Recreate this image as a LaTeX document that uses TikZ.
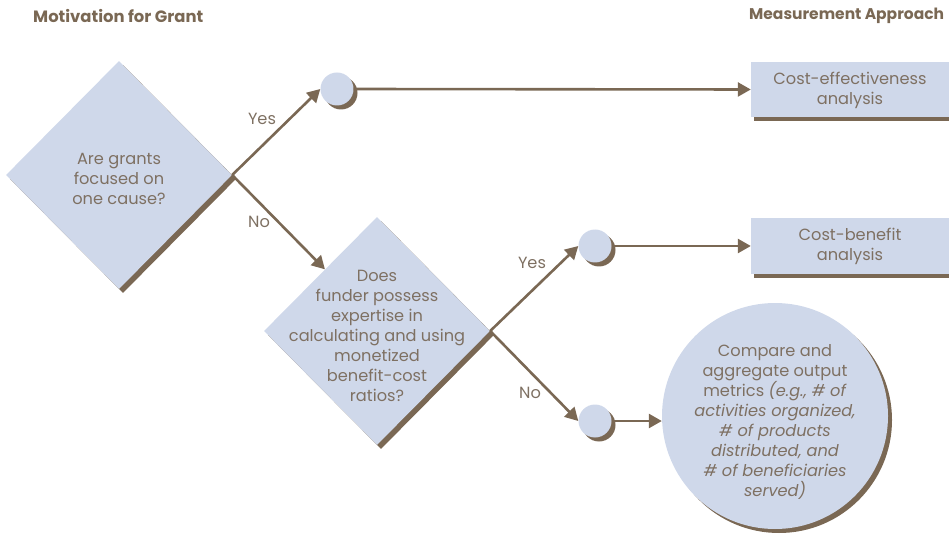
\documentclass[tikz,border=0pt]{standalone}
\usepackage{fontspec}
\setmainfont{Poppins}
\usetikzlibrary{shapes.geometric,arrows.meta,calc}
\definecolor{brn}{RGB}{122,104,84}
\definecolor{txtc}{RGB}{126,112,98}
\definecolor{pale}{RGB}{207,216,234}
\begin{document}
\begin{tikzpicture}[x=1pt,y=-1pt,
  txt/.style={text=txtc,font=\fontsize{16.2}{20}\selectfont,align=center,inner sep=0pt},
  head/.style={text=brn,font=\bfseries\fontsize{16.4}{18}\selectfont,anchor=west,inner sep=0pt},
  diam/.style={diamond,fill=pale,minimum width=226pt,minimum height=228pt,inner sep=0pt,aspect=1},
  diamsh/.style={diamond,fill=brn,minimum width=226pt,minimum height=228pt,inner sep=0pt,aspect=1},
  dot/.style={circle,fill=pale,minimum size=33pt,inner sep=0pt},
  dotsh/.style={circle,fill=brn,minimum size=33pt,inner sep=0pt},
  big/.style={circle,fill=pale,minimum size=226pt,inner sep=0pt},
  bigsh/.style={circle,fill=brn,minimum size=226pt,inner sep=0pt},
  box/.style={rectangle,fill=pale,minimum width=198pt,inner sep=0pt},
  boxsh/.style={rectangle,fill=brn,minimum width=198pt,inner sep=0pt},
  conn/.style={draw=brn,line width=2.6pt,-{Triangle[length=13pt,width=14pt]}},
  lbl/.style={text=txtc,font=\fontsize{16.2}{18}\selectfont,inner sep=0pt}
]
\path[use as bounding box] (0,0) rectangle (949,534);

% headers
\node[head] (h1) at (33,16) {Motivation for Grant};
\node[head,font=\bfseries\fontsize{15.5}{18}\selectfont] (h2) at (749,16) {Measurement Approach};

% shadows
\node[diamsh] (d1s) at (123,179) {};
\node[diamsh] (d2s) at (381,335) {};
\node[dotsh] (c1s) at (341,93) {};
\node[dotsh] (c2s) at (599,250) {};
\node[dotsh] (c3s) at (599,425) {};
\node[bigsh] (bcs) at (779,420) {};
\node[boxsh,minimum height=55pt] (b1s) at (853,93.5) {};
\node[boxsh,minimum height=56pt] (b2s) at (853,250) {};

% shapes
\node[diam] (d1) at (119,175) {};
\node[diam] (d2) at (377,331) {};
\node[dot] (c1) at (337,89) {};
\node[dot] (c2) at (595,246) {};
\node[dot] (c3) at (595,421) {};
\node[big] (bc) at (775,416) {};
\node[box,minimum height=55pt] (b1) at (850,89.5) {};
\node[box,minimum height=56pt] (b2) at (850,246) {};

% texts
\node[txt] (d1t) at (119,179) {Are grants\\focused on\\one cause?};
\node[txt] (d2t) at (377,336) {Does\\funder possess\\expertise in\\calculating and using\\monetized\\benefit-cost\\ratios?};
\node[txt] (bct) at (775,422) {Compare and\\aggregate output\\metrics \textit{(e.g., \# of}\\\textit{activities organized,}\\\textit{\# of products}\\\textit{distributed, and}\\\textit{\# of beneficiaries}\\\textit{served)}};
\node[txt] (b1t) at (850,90) {Cost-effectiveness\\analysis};
\node[txt] (b2t) at (850,246) {Cost-benefit\\analysis};

% connectors
\coordinate (d2in) at ($(d2.west)!0.54!(d2.north)$);
\draw[conn] (d1.east) -- (c1.west);
\draw[conn] (d1.east) -- (d2in);
\draw[conn] (c1.east) -- (b1.west);
\draw[conn] (d2.east) -- (c2.west);
\draw[conn] (d2.east) -- (c3.west);
\draw[conn] (c2.east) -- (b2.west);
\draw[conn] (c3.east) -- (bc.west |- c3.east);

% labels
\node[lbl] (y1) at (262,119) {Yes};
\node[lbl] (n1) at (259,222) {No};
\node[lbl] (y2) at (532,263) {Yes};
\node[lbl] (n2) at (530,393) {No};
\end{tikzpicture}
\end{document}
